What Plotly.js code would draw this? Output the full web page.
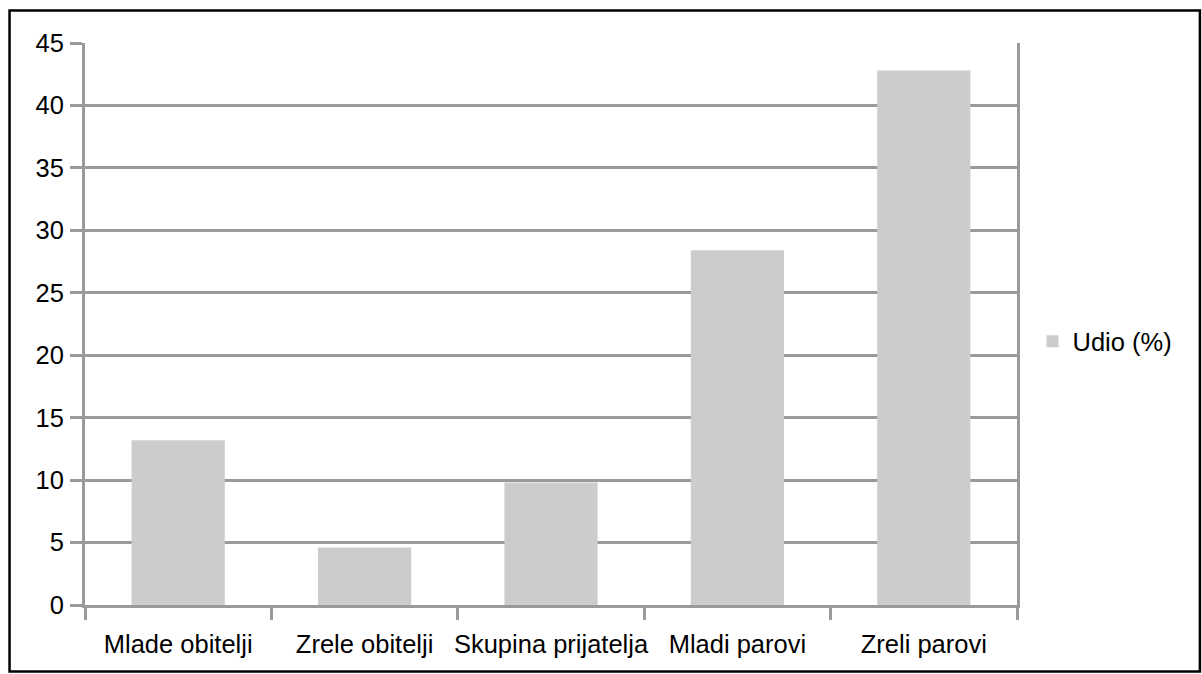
<!DOCTYPE html>
<html>
<head>
<meta charset="utf-8">
<script src="https://cdn.plot.ly/plotly-3.0.1.min.js"></script>
<style>html,body{margin:0;padding:0;background:#fff;}#chart{width:1202px;height:674px;}</style>
</head>
<body>
<div id="chart"></div>
<script>
var categories = ["Mlade obitelji", "Zrele obitelji", "Skupina prijatelja", "Mladi parovi", "Zreli parovi"];
var udio = [13.2, 4.6, 9.8, 28.4, 42.8];
var seriesName = "Udio (%)";
var yTicks = [0, 5, 10, 15, 20, 25, 30, 35, 40, 45];

var FONT = "Liberation Sans, Arial, sans-serif";
var GRID = "#9a9a9a";
var FS = 25.5;

var plotL = 85, plotR = 1017.5, plotT = 43, plotB = 605.5;
var W = 1202, H = 674;
function px(x){ return (x - plotL) / (plotR - plotL); }
function py(y){ return (plotB - y) / (plotB - plotT); }

var trace = {
  type: "bar",
  x: categories,
  y: udio,
  name: seriesName,
  marker: {color: "#cccccc", line: {width: 0}},
  showlegend: true,
  hoverinfo: "x+y"
};

var layout = {
  width: W, height: H,
  margin: {l: plotL, r: W - plotR, t: plotT, b: H - plotB, pad: 0},
  paper_bgcolor: "#ffffff",
  plot_bgcolor: "#ffffff",
  font: {family: FONT, size: FS, color: "#000000"},
  bargap: 0.5,
  showlegend: true,
  legend: {
    x: px(1033), xanchor: "left",
    y: py(342), yanchor: "middle",
    font: {family: FONT, size: FS, color: "#000"},
    bgcolor: "rgba(0,0,0,0)",
    borderwidth: 0
  },
  xaxis: {
    type: "category",
    automargin: false,
    tickangle: 0,
    showgrid: false,
    showline: true, linecolor: GRID, linewidth: 3,
    ticks: "outside", tickson: "boundaries", ticklen: 12, tickwidth: 3, tickcolor: GRID,
    tickfont: {family: FONT, size: FS, color: "#000"},
    ticklabelstandoff: 14,
    zeroline: false,
    fixedrange: true
  },
  yaxis: {
    automargin: false,
    range: [0, 45],
    tickvals: yTicks,
    ticktext: yTicks.map(String),
    showgrid: true, gridcolor: GRID, gridwidth: 3,
    showline: true, linecolor: GRID, linewidth: 3, mirror: true,
    ticks: "outside", ticklen: 12, tickwidth: 3, tickcolor: GRID,
    tickfont: {family: FONT, size: FS, color: "#000"},
    ticklabelstandoff: 1,
    zeroline: false,
    fixedrange: true
  },
  shapes: [{
    type: "rect", xref: "paper", yref: "paper",
    x0: px(9.5), x1: px(1200.5), y0: py(10.5), y1: py(672),
    line: {color: "#000000", width: 2.5},
    fillcolor: "rgba(0,0,0,0)",
    layer: "above"
  }]
};

Plotly.newPlot("chart", [trace], layout, {displayModeBar: false, staticPlot: true});
</script>
</body>
</html>
